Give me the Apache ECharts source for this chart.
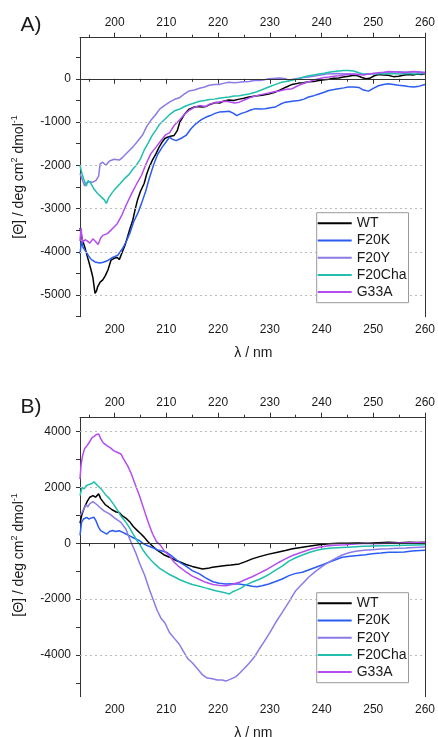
<!DOCTYPE html>
<html><head><meta charset="utf-8">
<script src="https://cdn.jsdelivr.net/npm/echarts@6/dist/echarts.min.js"></script>
<style>html,body{margin:0;padding:0;background:#fff}#c{width:438px;height:737px}</style>
</head><body><div id="c"></div>
<script>
// ---------- data ----------
const seriesNames = ['WT', 'F20K', 'F20Y', 'F20Cha', 'G33A'];
const xMajor = [200, 210, 220, 230, 240, 250, 260];
const xMinor = [195, 205, 215, 225, 235, 245, 255];
const yLabelsA = [-5000, -4000, -3000, -2000, -1000, 0];
const yTicksA = [-5500, -5000, -4500, -4000, -3500, -3000, -2500, -2000, -1500, -1000, -500, 0, 500];
const gridLinesA = [-5000, -4000, -3000, -2000, -1000];
const yLabelsB = [-4000, -2000, 0, 2000, 4000];
const yTicksB = [-5000, -4000, -3000, -2000, -1000, 0, 1000, 2000, 3000, 4000];
const gridLinesB = [-4000, -2000, 2000, 4000];

// Panel A: [wavelength nm, ellipticity]
const aWT = [[193.3,-3450],[193.7,-3700],[194.2,-3880],[194.7,-4100],[195.1,-4270],[195.5,-4450],[195.8,-4600],[196.2,-4960],[196.5,-4900],[196.7,-4810],[197.2,-4700],[197.7,-4650],[198.2,-4550],[198.7,-4420],[199.3,-4190],[199.9,-4150],[200.5,-4130],[200.9,-4180],[201.5,-4000],[202.0,-3850],[202.5,-3650],[203.0,-3450],[203.5,-3270],[204.0,-3000],[204.4,-2810],[205.0,-2600],[205.7,-2420],[206.2,-2200],[206.7,-2040],[207.3,-1880],[208.0,-1730],[208.6,-1580],[209.2,-1460],[209.7,-1380],[210.2,-1350],[210.8,-1330],[211.5,-1310],[212.1,-1200],[212.6,-1000],[213.5,-820],[214.4,-700],[215.2,-660],[216,-640],[217,-650],[217.6,-640],[218.5,-590],[219.6,-550],[220.3,-560],[221,-520],[222.1,-490],[223,-500],[224.1,-470],[225,-450],[226,-420],[227.2,-400],[228.5,-380],[229.8,-350],[230.8,-320],[231.8,-270],[233,-200],[234.3,-130],[235.6,-100],[236.5,-90],[237.5,-70],[238.5,-60],[239.5,-40],[240.5,-20],[241.4,-10],[242.3,10],[243.3,20],[244.2,40],[245.2,60],[246.2,80],[247,70],[247.8,30],[248.6,0],[249.3,10],[250.2,70],[251,100],[252,90],[252.9,80],[253.9,50],[254.9,60],[255.8,80],[256.8,100],[257.7,90],[258.5,110],[259.3,100],[260,115]];
const aF20K = [[193.3,-4050],[193.6,-3750],[193.9,-3900],[194.4,-3990],[195,-4100],[195.5,-4180],[196.2,-4235],[197.1,-4260],[197.8,-4240],[198.7,-4200],[199.6,-4130],[200.6,-4080],[201.5,-3930],[202.3,-3750],[203.0,-3550],[203.7,-3300],[204.5,-3100],[205.2,-2880],[206.0,-2600],[206.7,-2300],[207.5,-2000],[208.3,-1750],[209.2,-1580],[210,-1450],[210.6,-1350],[211.2,-1400],[211.9,-1430],[212.8,-1380],[213.8,-1310],[214.8,-1150],[215.7,-1040],[216.7,-950],[217.6,-890],[218.5,-850],[219.4,-800],[220.2,-770],[221.1,-760],[222.1,-750],[223.0,-800],[223.6,-850],[224.5,-800],[225.3,-770],[226.3,-720],[227.2,-690],[228.2,-700],[229.1,-690],[230.1,-670],[231.1,-650],[232,-590],[233,-540],[234.3,-520],[235.6,-500],[236.6,-470],[237.5,-420],[238.5,-390],[239.5,-350],[240.5,-310],[241.4,-270],[242.4,-250],[243.3,-230],[244.3,-210],[245.2,-190],[246.2,-190],[247.2,-200],[248.1,-260],[249.1,-285],[250,-220],[251,-160],[252,-130],[252.9,-115],[253.9,-130],[254.9,-150],[255.8,-160],[256.8,-180],[257.8,-190],[258.9,-170],[260,-130]];
const aF20Y = [[193.3,-2190],[193.8,-2350],[194.2,-2480],[194.5,-2400],[195.1,-2380],[195.8,-2390],[196.4,-2350],[196.9,-2250],[197.2,-1960],[197.7,-1930],[198.3,-2000],[199,-1900],[199.9,-1860],[200.9,-1880],[201.6,-1810],[202.5,-1700],[203.5,-1580],[204.4,-1450],[205.4,-1300],[206.2,-1100],[207,-960],[207.8,-850],[208.7,-700],[209.6,-620],[210.6,-540],[211.5,-480],[212.5,-440],[213.5,-350],[214.4,-280],[215.4,-260],[216.4,-220],[217.4,-190],[218.3,-150],[219.3,-130],[220.2,-130],[221.2,-100],[222.1,-80],[223.1,-90],[224.1,-80],[225,-70],[226,-60],[227,-40],[228,-40],[229,-20],[229.8,0],[231,10],[232,20],[233,0],[233.7,-30],[235,0],[236.5,30],[237.5,40],[239,70],[241,110],[243,120],[245,110],[247,100],[249,110],[251,120],[253,150],[255,160],[257,150],[258.5,160],[260,150]];
const aF20Cha = [[193.3,-2000],[193.7,-2200],[194.1,-2350],[194.5,-2480],[194.9,-2350],[195.4,-2420],[196,-2550],[196.7,-2650],[197.4,-2730],[198.0,-2800],[198.4,-2880],[198.9,-2740],[199.6,-2620],[200.3,-2520],[201,-2430],[201.8,-2320],[202.8,-2210],[203.5,-2090],[204.3,-1980],[205,-1850],[205.7,-1650],[206.5,-1480],[207.2,-1320],[208,-1180],[208.7,-1050],[209.5,-960],[210.6,-830],[211.6,-740],[212.6,-700],[213.5,-640],[214.4,-600],[215.4,-560],[216.4,-520],[217.4,-500],[218.3,-480],[219.3,-470],[220.2,-450],[221.2,-430],[222.1,-420],[223.1,-400],[224.1,-390],[225.1,-370],[226,-350],[227.2,-310],[228.1,-270],[229.8,-190],[231.1,-130],[232.3,-80],[233.7,-50],[234.6,-20],[235.6,0],[236.6,40],[237.5,70],[238.5,90],[239.5,110],[240.5,130],[241.4,150],[242.4,170],[243.3,180],[244.3,190],[245.2,190],[246.2,180],[247.2,140],[248,110],[249.1,110],[250.5,120],[252,110],[253.5,120],[255,110],[256.5,120],[258,110],[260,120]];
const aG33A = [[193.3,-3750],[193.5,-3450],[193.8,-3780],[194.3,-3720],[194.8,-3760],[195.2,-3800],[195.8,-3700],[196.3,-3760],[196.8,-3830],[197.3,-3680],[197.7,-3620],[198.6,-3580],[199.6,-3460],[200.5,-3350],[201.4,-3150],[202.3,-2900],[203.3,-2650],[204.3,-2420],[205.2,-2230],[206.1,-1960],[207,-1730],[208,-1580],[209,-1420],[209.9,-1290],[210.6,-1250],[211.5,-1080],[212.5,-960],[213.5,-820],[214.4,-730],[215.4,-660],[216.4,-620],[217.6,-640],[218.5,-580],[219.6,-550],[220.5,-530],[221.5,-520],[222.1,-530],[223.2,-560],[224.1,-540],[225.3,-480],[226.3,-430],[227.2,-400],[228.5,-360],[229.8,-330],[230.8,-300],[231.8,-280],[233,-250],[234.3,-230],[235.6,-150],[236.5,-110],[237.5,-70],[238.5,-30],[239.5,0],[240.5,30],[241.4,40],[242.4,60],[243.3,70],[244.3,90],[245.2,110],[246.2,110],[247.2,100],[248.2,90],[249.1,110],[250.2,130],[251,140],[252,150],[253,170],[254,160],[255,150],[256,140],[257,160],[258,170],[259,150],[260,130]];

// Panel B
const bWT = [[193.3,720],[193.7,1050],[194.2,1300],[194.7,1500],[195.2,1650],[195.8,1710],[196.3,1650],[196.9,1770],[197.3,1600],[197.7,1500],[198.2,1380],[198.8,1300],[199.5,1200],[200.3,1120],[200.9,1100],[201.5,980],[202.3,880],[203.0,750],[203.6,600],[204.3,470],[205,350],[205.7,220],[206.4,60],[207.2,-80],[208,-220],[208.8,-320],[209.5,-410],[210.6,-500],[211.9,-620],[213,-700],[213.8,-760],[215,-830],[216,-880],[217,-920],[218,-900],[218.9,-860],[220,-830],[221.5,-800],[222.5,-780],[224.1,-740],[225.3,-660],[226.6,-560],[228,-480],[229.8,-390],[231.5,-320],[233,-260],[234.4,-200],[236,-150],[237.5,-110],[239.5,-50],[241.4,-20],[243.3,0],[245,0],[247,10],[249,0],[251,20],[253,40],[255,20],[257,40],[258.5,30],[260,40]];
const bF20K = [[193.3,280],[193.6,750],[194,870],[194.6,930],[195,870],[195.4,900],[196,930],[196.4,800],[196.9,570],[197.3,450],[197.8,400],[198.5,330],[199,420],[199.6,455],[200.2,420],[200.9,450],[201.5,400],[202,350],[202.8,275],[203.8,180],[204.8,95],[205.6,-20],[206.5,-100],[207.4,-160],[208.3,-240],[209.2,-280],[210,-320],[211,-450],[212,-600],[212.9,-720],[213.8,-820],[215,-980],[216.4,-1100],[217.5,-1230],[219,-1380],[220.2,-1430],[221.5,-1460],[222.8,-1450],[224,-1460],[225.3,-1500],[226.6,-1540],[227.5,-1560],[228.5,-1520],[229.8,-1460],[231,-1380],[232.4,-1280],[233.7,-1160],[235,-1080],[236.3,-1040],[237.6,-950],[238.9,-860],[240.2,-770],[241.4,-680],[242.7,-590],[244,-500],[245.5,-470],[247,-440],[248.5,-410],[249.8,-380],[251.5,-350],[253,-320],[254.5,-320],[256,-310],[257.5,-280],[259,-260],[260,-250]];
const bF20Y = [[193.3,990],[193.7,1110],[194.1,1250],[194.5,1380],[194.8,1300],[195.2,1420],[195.8,1490],[196.1,1470],[196.6,1380],[197.1,1290],[198,1150],[199,1050],[199.9,920],[201.2,750],[202.2,500],[202.8,200],[203.5,-100],[204.2,-400],[204.9,-750],[205.8,-1150],[206.7,-1650],[207.4,-2000],[208.2,-2400],[209,-2700],[209.7,-2850],[210.6,-3200],[211.5,-3400],[212.5,-3620],[213.2,-3850],[214.2,-4150],[215.1,-4300],[216,-4500],[217,-4720],[217.9,-4830],[218.9,-4860],[219.8,-4900],[220.8,-4900],[221.5,-4940],[222.3,-4880],[223.4,-4790],[224.2,-4650],[225,-4500],[226,-4300],[227,-4080],[228,-3780],[229,-3500],[230,-3200],[231.1,-2850],[232.4,-2480],[233.7,-2100],[235,-1700],[236.3,-1450],[237.6,-1200],[238.9,-1000],[240.2,-820],[241.4,-680],[242.7,-540],[244,-420],[245.3,-340],[246.6,-290],[248.2,-250],[249.8,-230],[251.4,-210],[253,-200],[254.6,-180],[256.2,-170],[258,-150],[260,-130]];
const bF20Cha = [[193.3,1710],[193.7,2000],[194.1,1950],[194.5,2060],[195.0,2100],[195.5,2130],[196.0,2200],[196.3,2190],[196.8,2050],[197.4,1950],[198.2,1750],[199,1600],[199.7,1420],[200.5,1200],[201.2,980],[202,800],[202.8,575],[203.5,350],[204.3,100],[204.8,-30],[205.5,-250],[206.3,-450],[207,-600],[207.8,-750],[208.7,-900],[209.7,-1020],[210.6,-1120],[211.5,-1200],[212.5,-1300],[213.8,-1400],[215,-1480],[216.4,-1540],[217.5,-1600],[218.5,-1650],[219.5,-1700],[220.5,-1740],[221.5,-1780],[222.1,-1820],[222.8,-1740],[223.6,-1680],[224.5,-1600],[225.3,-1500],[226.5,-1400],[227.9,-1300],[229,-1200],[230,-1100],[231.1,-960],[232.4,-820],[233.7,-640],[235,-520],[236.3,-420],[237.6,-330],[238.9,-260],[240.2,-210],[242,-170],[244,-150],[246,-130],[248,-110],[250,-100],[252,-90],[254,-80],[256,-70],[258,-60],[260,-50]];
const bG33A = [[193.3,2300],[193.5,2800],[193.8,3140],[194.2,3400],[194.6,3480],[195.1,3620],[195.6,3780],[196.1,3840],[196.5,3900],[196.9,3920],[197.3,3750],[197.8,3600],[198.5,3500],[199.2,3420],[199.8,3320],[200.5,3260],[201.2,3200],[201.8,3000],[202.5,2780],[203.2,2500],[204,2100],[204.8,1700],[205.6,1250],[206.4,800],[207.3,350],[208.1,60],[208.8,-60],[209.7,-300],[210.6,-450],[211.5,-680],[212.5,-850],[213.8,-1030],[215,-1180],[216.4,-1300],[217.6,-1400],[219,-1480],[220.3,-1510],[221.5,-1520],[222.6,-1480],[224.1,-1400],[225.3,-1300],[226.6,-1200],[227.9,-1080],[229.2,-960],[230.5,-820],[231.8,-680],[233,-560],[234.4,-440],[235.6,-360],[237,-270],[238.2,-200],[239.5,-140],[241,-100],[242.5,-70],[244.6,-50],[246.5,-30],[248.5,0],[250,-20],[251.7,-10],[253.5,0],[255.5,10],[257.5,20],[260,30]];

// ---------- styling ----------
const FONT = '"Liberation Sans", Arial, sans-serif';
const TXT = '#1a1a1a';
const AXC = '#333';
const COLORS = ['#000000', '#2b5cf2', '#8a7be6', '#20bfae', '#b44cf0'];
const X_MIN = 193.3, X_MAX = 260;
const GRID_LEFT = 80, GRID_W = 346.7, GRID_H = 279;
const GRID_TOPS = [37.7, 417.7];
const Y_RANGES = [[-5500, 950], [-5500, 4500]];

function xAxesFor(g) {
  const base = {type: 'value', gridIndex: g, min: X_MIN, max: X_MAX, splitLine: {show: false}};
  const lab = (m) => ({customValues: xMajor, margin: m, color: TXT, fontSize: 12, fontFamily: FONT});
  return [
    Object.assign({}, base, {position: 'bottom', axisLine: {show: true, lineStyle: {color: AXC}},
      axisTick: {show: true, length: 5, customValues: xMajor, lineStyle: {color: AXC}}, axisLabel: lab(7)}),
    Object.assign({}, base, {position: 'bottom', axisLine: {show: false},
      axisTick: {show: true, length: 3, customValues: xMinor, lineStyle: {color: AXC}}, axisLabel: {show: false}}),
    Object.assign({}, base, {position: 'top', axisLine: {show: true, lineStyle: {color: AXC}},
      axisTick: {show: true, length: 5, customValues: xMajor, lineStyle: {color: AXC}}, axisLabel: lab(9)}),
    Object.assign({}, base, {position: 'top', axisLine: {show: false},
      axisTick: {show: true, length: 3, customValues: xMinor, lineStyle: {color: AXC}}, axisLabel: {show: false}})
  ];
}
function yAxesFor(g, ticks, labels) {
  const base = {type: 'value', gridIndex: g, min: Y_RANGES[g][0], max: Y_RANGES[g][1], splitLine: {show: false}};
  return [
    Object.assign({}, base, {position: 'left', axisLine: {show: true, lineStyle: {color: AXC}},
      axisTick: {show: true, length: 4, customValues: ticks, lineStyle: {color: AXC}},
      axisLabel: {customValues: labels, margin: 9, color: TXT, fontSize: 12, fontFamily: FONT, formatter: (v) => String(v)}}),
    Object.assign({}, base, {position: 'right', axisLine: {show: true, lineStyle: {color: AXC}},
      axisTick: {show: false}, axisLabel: {show: false}})
  ];
}

const panels = [
  {data: [aWT, aF20K, aF20Y, aF20Cha, aG33A], grid: gridLinesA},
  {data: [bWT, bF20K, bF20Y, bF20Cha, bG33A], grid: gridLinesB}
];
const series = [];
panels.forEach((p, g) => {
  p.data.forEach((d, i) => {
    const s = {
      type: 'line', name: seriesNames[i], data: d, xAxisIndex: g * 4, yAxisIndex: g * 2,
      showSymbol: false, symbol: 'none', smooth: false, color: COLORS[i],
      lineStyle: {width: 1.5, color: COLORS[i]}, z: 2
    };
    if (i === 0) {
      s.markLine = {
        silent: true, symbol: ['none', 'none'], label: {show: false}, animation: false,
        lineStyle: {type: [2, 3], color: '#bdbdbd', width: 1},
        data: p.grid.map(v => ({yAxis: v})).concat([{yAxis: 0, lineStyle: {type: 'solid', color: '#333', width: 1}}])
      };
    }
    series.push(s);
  });
});

function legendAt(top) {
  return {
    show: true, orient: 'vertical', left: 316.7, top: top, data: seriesNames, z: 50,
    icon: 'rect', itemWidth: 34, itemHeight: 2, itemGap: 3.2,
    padding: [3.6, 2, 3.6, 1], borderColor: '#9a9a9a', borderWidth: 1, backgroundColor: '#fff',
    textStyle: {fontSize: 14, lineHeight: 14, color: TXT, fontFamily: FONT}, selectedMode: false
  };
}

const yTitle = (y) => ({
  type: 'text', x: 19, y: y, rotation: Math.PI / 2,
  style: {
    text: '[Θ] / deg cm{sup|2} dmol{sup|-1}', fill: TXT, fontSize: 14, fontFamily: FONT,
    align: 'center', verticalAlign: 'middle',
    rich: {sup: {fontSize: 9, fontFamily: FONT, fill: TXT, padding: [0, 0, 8, 0]}}
  }
});
const txt = (t, x, y, size, align) => ({type: 'text', x: x, y: y,
  style: {text: t, fill: TXT, fontSize: size, fontFamily: FONT, align: align || 'center', verticalAlign: 'middle'}});

const option = {
  animation: false,
  backgroundColor: '#fff',
  grid: GRID_TOPS.map(t => ({left: GRID_LEFT, top: t, width: GRID_W, height: GRID_H, containLabel: false})),
  xAxis: xAxesFor(0).concat(xAxesFor(1)),
  yAxis: yAxesFor(0, yTicksA, yLabelsA).concat(yAxesFor(1, yTicksB, yLabelsB)),
  legend: [legendAt(212.7), legendAt(592.7)],
  series: series,
  graphic: [
    txt('A)', 20.5, 25, 21, 'left'),
    txt('B)', 20.5, 407, 21, 'left'),
    txt('λ / nm', 253.3, 353, 14),
    txt('λ / nm', 253.3, 733, 14),
    yTitle(177), yTitle(555)
  ]
};
const chart = echarts.init(document.getElementById('c'), null, {renderer: 'canvas'});
chart.setOption(option);
</script></body></html>
